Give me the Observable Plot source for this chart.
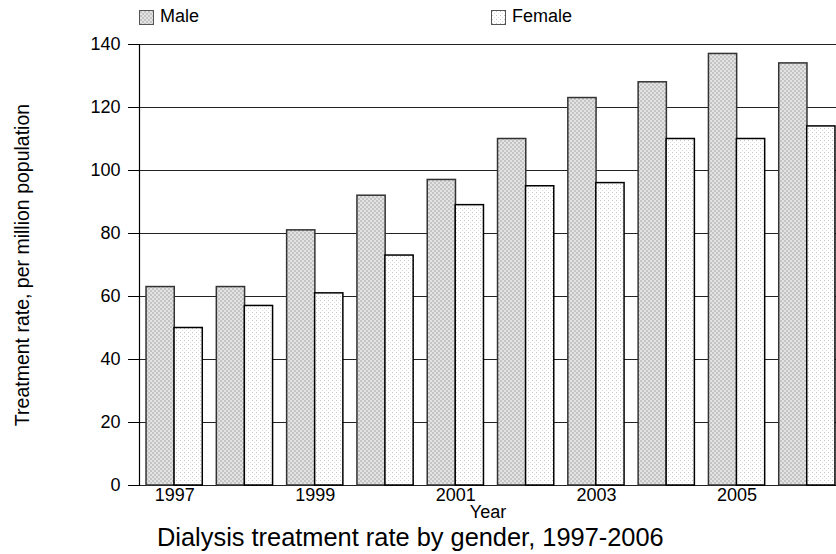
<!DOCTYPE html>
<html>
<head>
<meta charset="utf-8">
<script src="https://cdn.jsdelivr.net/npm/d3@7"></script>
<script src="https://cdn.jsdelivr.net/npm/@observablehq/plot@0.6"></script>
<style>
  html, body { margin: 0; padding: 0; background: white; overflow: hidden; }
  #wrap { position: relative; width: 836px; height: 554px; font-family: "Liberation Sans", Arial, sans-serif; color: black; }
  #legend { position: absolute; left: 0; top: 0; width: 836px; height: 28px; font-size: 18px; }
  .sw { position: absolute; top: 10px; width: 13px; height: 13px; border: 1px solid #555; }
  .lt { position: absolute; top: 6px; line-height: 20px; }
  #chart { position: absolute; left: 0; top: 28px; }
  #title { position: absolute; left: 0; top: 523px; width: 836px; font-size: 25.4px; line-height: 28px; }
  #title span { position: absolute; left: 157px; white-space: nowrap; }
</style>
</head>
<body>
<svg width="0" height="0" style="position:absolute">
  <defs>
    <pattern id="malePat" patternUnits="userSpaceOnUse" width="4" height="4">
      <rect width="4" height="4" fill="#e3e3e3"></rect>
      <rect x="0" y="0" width="2" height="2" fill="#c4c4c4"></rect>
      <rect x="2" y="2" width="2" height="2" fill="#c4c4c4"></rect>
    </pattern>
    <pattern id="femalePat" patternUnits="userSpaceOnUse" width="4" height="4">
      <rect width="4" height="4" fill="#ffffff"></rect>
      <rect x="0" y="0" width="1" height="1" fill="#c6c6c6"></rect>
      <rect x="2" y="2" width="1" height="1" fill="#dedede"></rect>
    </pattern>
  </defs>
</svg>
<div id="wrap">
  <div id="legend">
    <div class="sw" style="left:139px; background: url('data:image/svg+xml;utf8,<svg xmlns=%22http://www.w3.org/2000/svg%22 width=%224%22 height=%224%22><rect width=%224%22 height=%224%22 fill=%22%23e3e3e3%22/><rect width=%222%22 height=%222%22 fill=%22%23c4c4c4%22/><rect x=%222%22 y=%222%22 width=%222%22 height=%222%22 fill=%22%23c4c4c4%22/></svg>');"></div>
    <div class="lt" style="left:160px;">Male</div>
    <div class="sw" style="left:491px; background: url('data:image/svg+xml;utf8,<svg xmlns=%22http://www.w3.org/2000/svg%22 width=%224%22 height=%224%22><rect width=%224%22 height=%224%22 fill=%22white%22/><rect width=%221%22 height=%221%22 fill=%22%23c6c6c6%22/><rect x=%222%22 y=%222%22 width=%221%22 height=%221%22 fill=%22%23dedede%22/></svg>');"></div>
    <div class="lt" style="left:512px;">Female</div>
  </div>
  <div id="chart"></div>
  <div id="title"><span>Dialysis treatment rate by gender, 1997-2006</span></div>
</div>
<script>
const years = [1997, 1998, 1999, 2000, 2001, 2002, 2003, 2004, 2005, 2006];
const male = [63, 63, 81, 92, 97, 110, 123, 128, 137, 134];
const female = [50, 57, 61, 73, 89, 95, 96, 110, 110, 114];
const xTicks = [1997, 1999, 2001, 2003, 2005];
const yTicks = [0, 20, 40, 60, 80, 100, 120, 140];

const data = years.map((year, i) => ({year, male: male[i], female: female[i]}));

const chart = Plot.plot({
  width: 836,
  height: 500,
  marginTop: 16,
  marginBottom: 43,
  marginLeft: 139,
  marginRight: 0,
  style: {fontFamily: "Liberation Sans, Arial, sans-serif", fontSize: "18px", color: "black", background: "transparent", overflow: "hidden"},
  x: {type: "band", domain: years, range: [139, 842], paddingInner: 0.2, paddingOuter: 0.1, round: false},
  y: {domain: [0, 140]},
  marks: [
    Plot.ruleY(yTicks, {stroke: "#222", strokeWidth: 1.2}),
    Plot.barY(data, {x: "year", y: "male", fill: "url(#malePat)", stroke: "#333", strokeWidth: 1.5, insetRight: 28}),
    Plot.barY(data, {x: "year", y: "female", fill: "url(#femalePat)", stroke: "#000", strokeWidth: 1.5, insetLeft: 28}),
    Plot.frame({anchor: "left", stroke: "#000", strokeWidth: 1.2}),
    Plot.axisY(yTicks, {tickSize: 11, tickPadding: 8, fontSize: 18, stroke: "#000", label: null}),
    Plot.axisY({ticks: [], tickSize: 0, fontSize: 19.5, dy: -7, label: "Treatment rate, per million population", labelArrow: "none", labelAnchor: "center", labelOffset: 124}),
    Plot.axisX(xTicks, {tickSize: 0, tickPadding: 3, fontSize: 18, tickFormat: d => String(d), label: "Year", labelArrow: "none", labelAnchor: "center", labelOffset: 32})
  ]
});
document.getElementById("chart").appendChild(chart);
</script>
</body>
</html>
